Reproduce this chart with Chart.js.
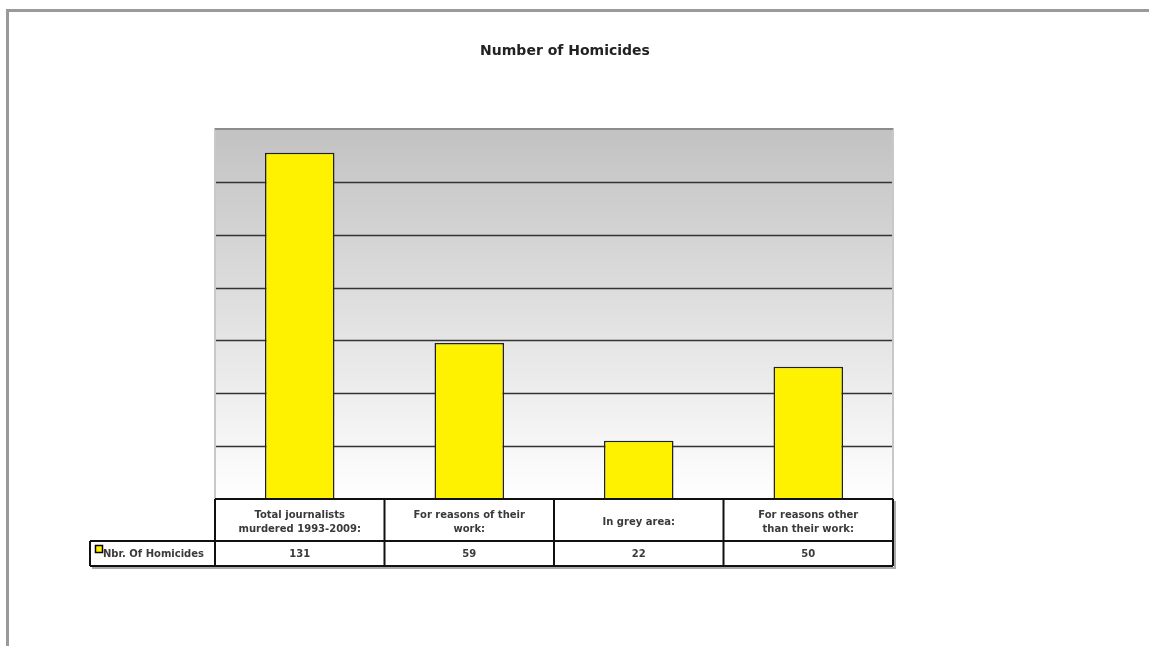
<!DOCTYPE html>
<html><head><meta charset="utf-8">
<script src="https://cdn.jsdelivr.net/npm/chart.js@4"></script>
<style>html,body{margin:0;padding:0;background:#fff;overflow:hidden}#wrap{width:1149px;height:646px;position:relative}</style>
</head><body><div id="wrap"><canvas id="c" width="1149" height="646"></canvas></div>
<script>
const chartTitle = 'Number of Homicides';
const seriesName = 'Nbr. Of Homicides';
const categories = [['Total journalists','murdered 1993-2009:'],['For reasons of their','work:'],['In grey area:'],['For reasons other','than their work:']];
const homicides = [131, 59, 22, 50];
const yMax = 140, yStep = 20;

const FONT = '"DejaVu Sans", Verdana, sans-serif';
const BAR_COLOR = '#fff200';

const deco = {
  id: 'deco',
  beforeDraw(chart) {
    const ctx = chart.ctx, a = chart.chartArea;
    ctx.save();
    ctx.fillStyle = '#fff';
    ctx.fillRect(0, 0, chart.width, chart.height);
    // page frame
    ctx.fillStyle = '#9a9a9a';
    ctx.fillRect(6, 9, chart.width - 6, 3);
    ctx.fillRect(6, 9, 3, chart.height - 9);
    // plot gradient
    const g = ctx.createLinearGradient(0, a.top, 0, a.bottom);
    g.addColorStop(0, '#c2c2c2');
    g.addColorStop(1, '#ffffff');
    ctx.fillStyle = g;
    ctx.fillRect(a.left, a.top, a.right - a.left, a.bottom - a.top);
    // gridlines
    const y = chart.scales.y;
    ctx.strokeStyle = '#333';
    ctx.lineWidth = 1.5;
    for (let v = yStep; v < yMax; v += yStep) {
      const py = Math.round(y.getPixelForValue(v)) + 0.5;
      ctx.beginPath(); ctx.moveTo(a.left, py); ctx.lineTo(a.right, py); ctx.stroke();
    }
    // plot border
    ctx.strokeStyle = '#c8c8c8';
    ctx.lineWidth = 2;
    ctx.beginPath(); ctx.moveTo(a.left, a.bottom); ctx.lineTo(a.left, a.top); ctx.lineTo(a.right, a.top); ctx.lineTo(a.right, a.bottom); ctx.stroke();
    ctx.strokeStyle = '#8c8c8c';
    ctx.beginPath(); ctx.moveTo(a.left, a.top); ctx.lineTo(a.right, a.top); ctx.stroke();
    ctx.restore();
  },
  afterDraw(chart) {
    const ctx = chart.ctx, a = chart.chartArea, x = chart.scales.x;
    const n = categories.length;
    const cw = (a.right - a.left) / n;
    const hTop = a.bottom, hBot = a.bottom + 42, dBot = hBot + 25, legLeft = 90;
    ctx.save();
    // shadow
    ctx.strokeStyle = '#aaa';
    ctx.lineWidth = 2;
    ctx.beginPath();
    ctx.moveTo(a.right + 2, hTop + 2); ctx.lineTo(a.right + 2, dBot + 2); ctx.lineTo(legLeft + 2, dBot + 2);
    ctx.stroke();
    // table lines
    ctx.strokeStyle = '#111';
    ctx.lineWidth = 2;
    ctx.beginPath();
    ctx.moveTo(a.left, hTop); ctx.lineTo(a.right, hTop);
    ctx.moveTo(legLeft, hBot); ctx.lineTo(a.right, hBot);
    ctx.moveTo(legLeft, dBot); ctx.lineTo(a.right, dBot);
    ctx.moveTo(legLeft, hBot); ctx.lineTo(legLeft, dBot);
    for (let i = 0; i <= n; i++) {
      const px = a.left + i * cw;
      ctx.moveTo(px, hTop); ctx.lineTo(px, dBot);
    }
    ctx.stroke();
    // texts
    ctx.fillStyle = '#3a3a3a';
    ctx.font = 'bold 10px ' + FONT;
    ctx.textAlign = 'center';
    ctx.textBaseline = 'middle';
    categories.forEach((lines, i) => {
      const cx = x.getPixelForValue(i);
      const mid = (hTop + hBot) / 2 + 2.5;
      const lh = 14.5;
      lines.forEach((t, j) => {
        ctx.fillText(t, cx, mid + (j - (lines.length - 1) / 2) * lh);
      });
      ctx.fillText(String(homicides[i]), cx, (hBot + dBot) / 2 + 1);
    });
    // legend
    ctx.fillStyle = BAR_COLOR;
    ctx.fillRect(96, 546, 6, 6);
    ctx.strokeStyle = '#000';
    ctx.lineWidth = 1.5;
    ctx.strokeRect(95.5, 545.5, 7, 7);
    ctx.fillStyle = '#3a3a3a';
    ctx.textAlign = 'left';
    ctx.fillText(seriesName, 103, (hBot + dBot) / 2 + 1);
    // title
    ctx.font = 'bold 14px ' + FONT;
    ctx.textAlign = 'center';
    ctx.fillStyle = '#222';
    ctx.fillText(chartTitle, 565, 51);
    ctx.restore();
  }
};

new Chart(document.getElementById('c'), {
  type: 'bar',
  data: {
    labels: categories,
    datasets: [{
      label: seriesName,
      data: homicides,
      backgroundColor: BAR_COLOR,
      borderColor: '#222',
      borderWidth: 1.5,
      borderSkipped: 'bottom',
      categoryPercentage: 1,
      barPercentage: 0.41
    }]
  },
  options: {
    responsive: false,
    animation: false,
    devicePixelRatio: 1,
    layout: { padding: { left: 215, right: 256, top: 129, bottom: 147 } },
    plugins: { legend: { display: false }, title: { display: false }, tooltip: { enabled: false } },
    scales: {
      x: { display: false },
      y: { display: false, min: 0, max: yMax, ticks: { stepSize: yStep } }
    }
  },
  plugins: [deco]
});
</script>
</body></html>
